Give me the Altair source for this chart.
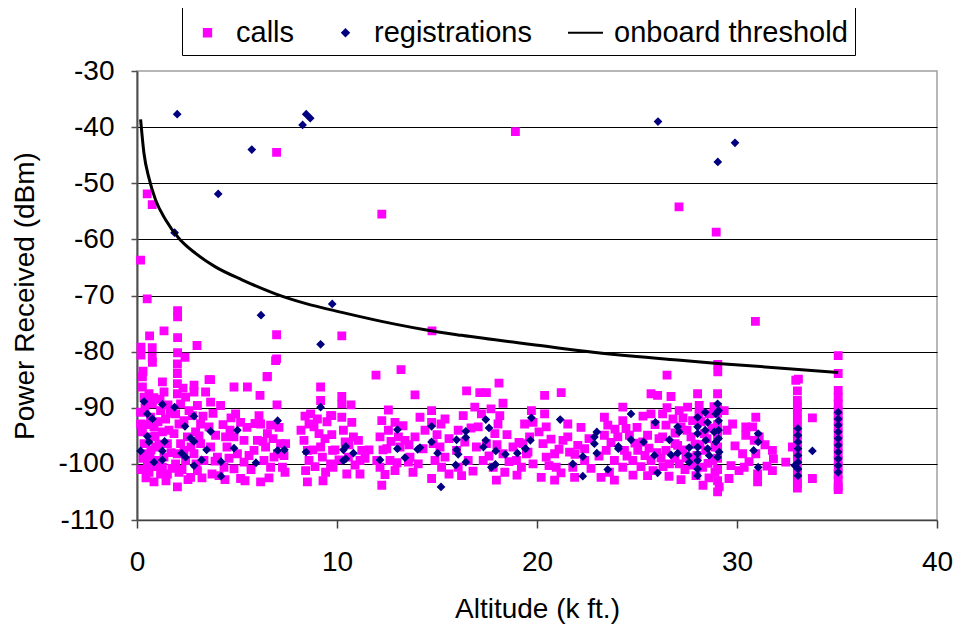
import altair as alt
import pandas as pd

# ---------------- data ----------------
calls_x = [
    # outliers / upper points
    6.98, 18.92, 0.51, 0.76, 12.24, 0.18, 0.51, 2.03, 2.03, 0.63, 1.35, 2.03, 3.0, 6.98, 6.98,
    10.24, 14.75, 0.2, 0.2, 0.76, 0.76, 2.03, 2.4, 0.3, 11.95, 13.2, 6.5, 3.6, 18.1, 27.1,
    28.96, 30.92, 35.06, 35.06, 29.04, 29.04, 26.5, 33.07,
    # x 0 - 10
    0.27, 0.27, 0.77, 0.35, 0.18, 0.18, 0.27, 0.35, 0.43, 0.52, 0.6, 0.85, 0.77, 0.85, 0.68, 0.93,
    1.02, 0.77, 0.6, 1.18,
    1.27, 1.35, 1.18, 1.43, 1.27, 1.52, 1.35, 1.27, 1.52,
    2.02, 2.02, 2.02, 2.02, 2.18, 1.93, 2.1, 1.85, 2.18, 2.02, 1.93, 2.1, 2.02, 2.43, 2.35, 2.52,
    2.35, 2.43,
    2.85, 2.85, 3.02, 2.77, 3.18, 2.93, 3.18, 2.85, 3.35, 3.02, 2.68, 3.43, 3.68, 3.68,
    3.6, 3.93, 3.68, 4.02, 4.35, 4.1, 4.5, 4.18, 4.43,
    4.85, 5.52, 4.93, 5.18, 4.85, 5.35, 5.02, 5.35, 4.85, 5.18, 5.6,
    6.15, 6.52, 6.1, 6.18, 6.52, 6.43, 6.02, 6.68, 6.35, 6.85, 6.68, 6.18, 7.02, 7.18, 7.43, 7.35,
    6.93, 5.85, 7.27,
    8.35, 8.52, 8.6, 8.43, 8.52, 8.68, 8.6, 9.02, 9.1, 9.18, 9.18, 9.18, 9.27, 9.68, 9.68, 9.43,
    8.85,
    # x 10 - 19.5
    10.24, 10.24, 9.74, 9.74, 9.78, 9.8, 10.24, 10.32, 10.41, 10.57, 10.49, 10.74, 10.82,
    11.07, 11.15, 11.15, 11.24,
    11.99, 12.15, 12.24, 12.15, 12.24, 12.57, 12.57, 12.49, 12.65, 12.9, 13.07, 13.15, 13.4,
    13.65, 13.9, 13.9, 14.06, 14.15, 13.57, 12.9,
    14.73, 14.73, 14.81, 14.9, 14.73, 15.2, 15.15, 15.23,
    16.06, 15.98, 16.06, 16.23, 16.39, 16.56, 16.31, 16.48, 16.89, 17.14, 17.47, 17.22, 17.06,
    16.97, 17.31, 17.47, 17.89, 17.81, 17.97, 18.05, 18.14, 18.3, 18.39, 18.8, 18.97, 19.22,
    19.38, 19.3, 19.47,
    # x 19.5 - 29.2
    20.38, 21.21, 19.72, 19.8, 19.63, 19.55, 19.8, 20.21, 20.38, 20.46, 20.3, 20.46, 20.88,
    20.96, 20.88, 21.3, 21.54, 21.54, 21.63, 21.79, 22.04, 22.38, 22.38, 21.88, 23.37, 23.54,
    23.37, 23.46, 23.87, 23.62, 23.87, 24.29, 24.29, 24.45, 24.62, 24.04, 24.37, 24.29, 24.79,
    25.04, 25.29, 25.53, 25.7, 25.7, 26.03, 26.7, 25.7, 25.53, 26.28, 26.45, 26.28, 26.45,
    26.62, 27.11, 27.2, 27.03, 27.11, 27.53, 27.78, 27.7, 27.61, 27.95, 28.03, 28.11, 28.36,
    28.44, 28.28, 29.03, 29.03, 29.11, 28.61, 28.78,
    25.9, 26.1, 26.0, 26.3, 26.8, 26.9, 26.9, 27.3, 27.4, 27.5, 27.9, 28.0, 28.2, 28.5, 28.6,
    28.9, 28.9, 25.2, 24.8, 25.0,
    29.03, 29.03, 29.03, 29.03, 29.03, 29.03, 29.03, 29.03,
    # x 29.3 - 35
    29.36, 29.78, 29.7, 30.28, 30.44, 30.44, 30.36, 30.94, 30.78, 30.86, 30.94, 31.03, 31.03,
    31.11, 31.77, 31.82, 31.77, 32.44, 32.94, 33.02, 33.02, 33.02, 33.02, 33.02, 33.02, 33.02,
    33.02, 32.77, 33.77, 33.77,
    35.06, 35.06, 35.06, 35.06, 35.06, 35.06, 35.06, 35.06,
    35.06, 35.06, 35.06, 35.06, 35.06, 35.06, 35.06, 35.06, 35.06,
    33.02, 33.02, 33.02, 33.02, 33.02, 33.02, 33.02, 33.02, 33.02,
    # denser band fill
    0.4, 0.5, 0.3, 0.7, 0.9, 0.45, 0.65, 0.2, 0.95, 0.55, 1.05, 0.85,
    1.1, 1.6, 1.7, 1.45, 1.15, 1.65, 1.75, 1.55,
    2.25, 2.6, 2.7, 2.95, 3.1, 3.3, 2.55, 3.25, 2.3,
    3.8, 3.9, 4.3, 4.6, 4.65, 4.4, 3.75, 4.7,
    5.5, 5.7, 5.9, 6.3, 6.8, 7.1, 6.6, 5.4, 7.4, 7.0,
    8.2, 8.4, 8.8, 8.9, 9.4, 9.5, 9.9, 9.3,
    10.1, 10.6, 10.9, 11.4, 11.6, 10.7,
    12.3, 12.7, 13.0, 13.3, 13.6, 13.8, 14.3, 14.4, 12.4,
    15.0, 15.4, 15.6, 15.6, 15.4,
    16.7, 16.8, 17.6, 17.7, 18.0, 18.5, 18.6, 19.1, 19.0, 18.3,
    20.1, 20.6, 20.7, 21.1, 21.2, 21.9, 22.6, 22.7, 23.1, 23.2, 23.7, 23.9, 22.2,
    24.5, 24.9, 25.4, 25.6, 25.8, 26.2, 26.6, 26.9, 27.2, 27.45, 27.8, 28.15, 28.3, 28.55, 28.75,
    28.85, 28.1, 27.3, 26.5, 25.3,
    29.5, 29.9, 30.1, 29.6, 30.6, 31.4, 31.5,
]
calls_y = [
    -44.5, -40.8, -51.9, -53.8, -55.5, -63.7, -70.6, -72.7, -73.8, -77.2, -76.3, -77.5, -78.9, -77.0, -81.3,
    -77.2, -76.3, -79.2, -80.6, -79.3, -81.0, -80.2, -81.0, -83.5, -84.2, -83.2, -84.5, -85.0, -85.6, -54.2,
    -58.7, -74.6, -80.7, -83.9, -82.3, -83.6, -84.2, -84.9,
    -84.5, -86.3, -81.9, -88.1, -90.8, -92.9, -94.3, -96.4, -98.2, -100.0, -101.5, -103.2, -95.2, -93.4, -91.7, -97.0,
    -99.4, -89.3, -87.5, -101.8,
    -85.4, -87.2, -90.5, -92.0, -94.3, -96.4, -98.8, -100.6, -101.8,
    -82.2, -83.9, -85.7, -87.5, -89.3, -91.1, -92.9, -94.6, -96.4, -98.2, -100.0, -101.5, -104.1, -88.1, -92.3, -95.2,
    -97.6, -99.4,
    -86.0, -87.2, -89.6, -91.4, -92.9, -94.3, -96.4, -98.2, -99.4, -101.2, -102.4, -87.2, -85.0, -89.0,
    -93.4, -94.9, -97.0, -98.8, -100.6, -102.1, -97.0, -89.6, -95.2,
    -86.3, -86.3, -91.1, -92.6, -95.2, -95.8, -98.2, -99.7, -100.9, -102.6, -98.5,
    -87.8, -84.4, -91.4, -92.9, -94.6, -97.0, -95.8, -93.1, -99.4, -98.8, -100.6, -103.2, -98.2, -96.4, -96.4, -98.5,
    -81.6, -97.6, -100.6,
    -95.8, -97.6, -99.4, -101.2, -103.2, -91.1, -92.9, -92.0, -94.6, -97.0, -86.3, -88.7, -98.8, -91.4, -100.0, -101.5,
    -93.4,
    -88.0, -89.3, -91.4, -94.8, -97.6, -100.6, -91.7, -94.0, -96.1, -98.8, -101.8, -92.6, -95.2,
    -95.8, -99.4, -101.8, -97.6,
    -99.4, -100.6, -103.8, -95.2, -92.3, -90.4, -94.0, -97.3, -99.4, -92.6, -95.2, -97.0, -95.8,
    -98.8, -95.2, -87.7, -100.0, -91.7, -99.7, -101.2,
    -90.5, -92.6, -96.4, -99.4, -102.6, -92.9, -97.0, -100.6,
    -94.0, -97.6, -100.6, -102.1, -96.1, -99.4, -91.4, -87.0, -89.9, -87.3, -87.3, -91.1, -93.4,
    -97.0, -99.4, -96.4, -94.6, -100.6, -102.9, -92.9, -91.4, -98.2, -101.5, -97.0, -99.4, -100.6,
    -92.9, -96.4, -98.2,
    -87.8, -87.3, -90.5, -92.6, -95.2, -97.9, -100.0, -102.4, -91.1, -93.4, -96.4, -98.8, -98.2,
    -100.6, -102.9, -95.8, -92.9, -95.2, -97.9, -100.6, -96.7, -97.3, -99.4, -102.4, -91.7, -93.1,
    -94.9, -97.6, -99.4, -101.5, -102.9, -89.9, -92.3, -93.7, -94.9, -95.2, -97.6, -100.6, -99.4,
    -97.6, -96.1, -94.9, -91.1, -87.5, -87.8, -88.0, -99.4, -102.1, -91.1, -93.1, -95.2, -97.6,
    -100.0, -90.5, -93.4, -96.7, -100.0, -89.9, -92.3, -95.2, -98.8, -102.1, -87.5, -89.6, -94.6,
    -97.6, -100.6, -87.5, -89.9, -104.1, -91.1, -99.4,
    -93.0, -95.5, -98.0, -100.5, -92.0, -94.5, -99.0, -97.5, -101.0, -94.0, -96.5, -98.5, -92.5, -95.5, -102.5,
    -97.0, -101.5, -100.5, -102.0, -93.5,
    -91.0, -93.0, -95.0, -97.0, -99.0, -101.0, -103.0, -105.0,
    -90.5, -92.9, -100.3, -98.2, -93.4, -94.9, -100.6, -91.7, -93.4, -95.8, -98.2, -101.8, -103.2,
    -95.2, -97.6, -99.1, -101.2, -99.7, -85.1, -88.7, -90.8, -93.4, -95.8, -97.6, -99.4, -101.8,
    -103.5, -97.0, -91.8, -102.6,
    -86.9, -89.3, -92.3, -94.6, -97.0, -99.4, -101.8, -104.1,
    -88.1, -90.5, -91.5, -93.5, -95.8, -98.2, -100.6, -103.0, -104.6,
    -87.0, -89.8, -92.1, -94.6, -96.7, -98.5, -100.6, -102.7, -104.3,
    # denser band fill
    -90.0, -93.0, -99.0, -97.5, -95.0, -102.5, -98.8, -101.0, -100.5, -89.0, -92.5, -88.2,
    -96.5, -94.0, -98.0, -103.0, -88.5, -91.0, -100.8, -89.5,
    -101.0, -90.5, -97.0, -100.0, -95.0, -91.5, -102.8, -102.5, -86.5,
    -91.0, -99.5, -93.0, -99.0, -94.0, -102.8, -101.8, -91.8,
    -93.5, -101.0, -92.8, -96.0, -95.5, -93.5, -102.5, -103.0, -101.5, -89.5,
    -94.0, -91.5, -97.5, -100.5, -95.5, -92.5, -97.5, -103.0,
    -99.3, -96.6, -100.2, -99.0, -97.5, -89.5,
    -97.5, -96.0, -99.8, -93.2, -96.6, -101.5, -97.3, -94.0, -101.9,
    -94.8, -98.8, -95.5, -101.8, -92.0,
    -93.6, -101.3, -98.6, -90.2, -96.6, -94.8, -99.6, -96.2, -102.0, -89.2,
    -94.3, -100.3, -95.6, -97.4, -101.6, -98.3, -95.5, -100.8, -98.6, -102.4, -96.2, -93.8, -93.5,
    -98.6, -96.3, -98.5, -97.2, -101.2, -98.9, -102.2, -96.4, -102.8, -98.9, -100.2, -96.6, -103.8, -99.9, -93.6,
    -89.8, -91.2, -91.8, -90.0, -91.5,
    -94.0, -96.8, -101.2, -102.6, -99.6, -96.6, -100.4,
]

reg_x = [
    2.01, 5.74, 4.06, 8.28, 8.46, 8.66, 1.88, 9.76, 6.2, 9.18, 26.05, 29.9, 29.04,
    0.35, 0.52, 0.77, 0.52, 0.6, 0.18, 0.85, 1.27, 1.27, 1.38, 1.27, 1.88, 2.4, 2.68, 2.85, 2.85,
    2.23, 2.43, 2.85, 3.23, 3.48, 3.68, 4.2, 4.2, 4.85, 5.02, 5.95, 7.03, 7.03, 7.37, 8.45, 9.18,
    10.32, 10.44, 10.32, 10.44, 10.82, 12.15, 13.02, 13.02, 13.4, 14.03, 14.15, 14.73, 14.73,
    15.03, 15.2, 15.98, 15.98, 16.06, 15.94, 16.44, 16.44, 16.44, 17.44, 17.6, 17.44, 17.32,
    17.94, 17.72, 17.92, 18.42, 19.02, 19.42,
    19.72, 21.16, 19.67, 19.43, 21.79, 22.29, 22.29, 22.99, 22.87, 22.87, 22.99, 23.54, 24.07,
    24.07, 24.7, 24.7, 25.33, 25.92, 25.87, 26.03, 26.62, 26.7, 27.03, 27.11, 27.03, 27.61,
    27.56, 27.61, 28.03, 28.03, 28.03, 28.03, 28.03, 28.03, 28.03, 28.03, 28.41, 28.53, 28.44,
    28.53, 28.61, 28.86, 28.94, 29.03, 28.94, 29.11, 29.03, 28.41,
    29.08, 29.08, 29.08, 29.08,
    31.06, 31.06, 30.83, 31.06,
    33.05, 33.05, 33.05, 33.05, 33.05, 33.05, 33.05, 33.05, 32.89, 33.77,
    35.06, 35.06, 35.06, 35.06, 35.06, 35.06, 35.06, 35.06, 35.06, 35.06,
]
reg_y = [
    -37.7, -44.0, -51.9, -39.6, -37.7, -38.4, -58.8, -71.5, -73.5, -78.7, -39.0, -42.8, -46.2,
    -88.9, -91.1, -92.0, -95.1, -96.1, -97.7, -99.7, -99.3, -97.7, -96.0, -89.4, -89.9, -93.3, -95.4, -96.0, -91.5,
    -98.1, -98.8, -100.3, -99.3, -97.5, -94.2, -99.6, -102.2, -97.2, -94.0, -99.8, -92.3, -97.6, -97.5, -97.9, -89.9,
    -97.5, -96.9, -99.4, -99.1, -98.1, -99.3, -93.9, -97.3, -98.9, -97.4, -97.1, -93.3, -96.1,
    -98.1, -104.1, -95.7, -97.5, -98.3, -100.2, -94.2, -95.3, -99.7, -92.1, -93.6, -95.8, -97.0,
    -97.7, -100.6, -100.1, -98.3, -98.1, -97.3,
    -91.8, -92.1, -95.8, -97.3, -100.0, -98.7, -102.2, -94.3, -95.2, -96.4, -98.1, -101.0, -96.9,
    -97.3, -91.1, -95.7, -96.1, -92.6, -98.5, -101.6, -95.7, -98.4, -93.4, -94.3, -98.1, -97.1,
    -98.5, -99.7, -91.7, -93.4, -94.6, -97.0, -98.2, -99.4, -100.9, -102.1, -90.8, -92.6, -95.8,
    -97.3, -98.5, -94.3, -91.1, -89.3, -96.1, -97.9, -98.8, -94.0,
    -90.5, -92.3, -94.0, -95.5,
    -94.6, -96.1, -97.6, -100.6,
    -93.7, -94.9, -96.1, -97.3, -98.5, -99.7, -100.9, -102.1, -100.3, -97.7,
    -90.8, -92.0, -93.1, -94.3, -95.5, -96.7, -97.9, -99.1, -100.3, -101.5,
]

thr_x = [0.18, 0.35, 0.6, 0.93, 1.43, 2.09, 2.93, 3.92, 5.25, 6.92, 8.41, 10.24, 12.9, 14.4,
         16.23, 20.55, 22.05, 27.03, 29.03, 35.06]
thr_y = [-38.6, -44.7, -49.1, -53.0, -56.5, -59.8, -62.5, -64.9, -67.2, -69.7, -71.4, -73.0, -75.1,
         -76.1, -77.1, -79.1, -79.8, -81.5, -82.1, -83.7]

series_names = ["calls", "registrations", "onboard threshold"]
series_colors = ["#FF00FF", "#000080", "#000000"]
series_shapes = ["M-0.21,-0.21H0.21V0.21H-0.21Z", "M0,-0.19L0.19,0L0,0.19L-0.19,0Z", "M-1,0H1"]

x_ticks = [0, 10, 20, 30, 40]
y_ticks = [-110, -100, -90, -80, -70, -60, -50, -40, -30]

# ---------------- chart ----------------
pts = pd.DataFrame({
    "alt": calls_x + reg_x,
    "power": calls_y + reg_y,
    "series": ["calls"] * len(calls_x) + ["registrations"] * len(reg_x),
})
thr = pd.DataFrame({"alt": thr_x, "power": thr_y})

FONT = "Liberation Sans"

x_enc = alt.X(
    "alt:Q",
    scale=alt.Scale(domain=[0, 40], nice=False, zero=False),
    axis=alt.Axis(
        values=x_ticks, title="Altitude (k ft.)", grid=False, tickSize=8, tickWidth=1.5,
        tickColor="#404040", domainColor="#404040", domainWidth=1.5, labelPadding=20,
        titlePadding=19, labelFlush=False, labelOverlap=False,
        labelFont=FONT, labelFontSize=28, labelColor="black",
        titleFont=FONT, titleFontSize=28, titleFontWeight="normal", titleColor="black",
    ),
)
y_enc = alt.Y(
    "power:Q",
    scale=alt.Scale(domain=[-110, -30], nice=False, zero=False),
    axis=alt.Axis(
        values=y_ticks, title="Power Received (dBm)", grid=True,
        gridColor={"condition": {"test": "datum.value <= -110 || datum.value >= -30",
                                 "value": "transparent"}, "value": "#000000"},
        gridWidth=1, tickSize=6, tickWidth=1.5, tickColor="#505050",
        domainColor="#505050", domainWidth=2, labelPadding=17, titlePadding=18,
        labelFlush=False, labelOverlap=False, labelExpr="'' + datum.value",
        labelFont=FONT, labelFontSize=28, labelColor="black",
        titleFont=FONT, titleFontSize=28, titleFontWeight="normal", titleColor="black",
    ),
)

legend = alt.Legend(
    title=None, orient="none", legendX=45, legendY=-64, direction="horizontal", columns=3,
    strokeColor="#000000", fillColor="white", padding=7, labelOffset=10, columnPadding=32,
    symbolSize=1225, symbolStrokeWidth=2, labelFont=FONT, labelFontSize=29, labelColor="black",
    labelLimit=400,
)

points = alt.Chart(pts).mark_point(filled=True, size=1225, strokeWidth=1.5, opacity=1).encode(
    x=x_enc,
    y=y_enc,
    fill=alt.Fill("series:N", scale=alt.Scale(domain=series_names, range=series_colors), legend=legend),
    stroke=alt.Stroke("series:N", scale=alt.Scale(domain=series_names, range=series_colors), legend=legend),
    shape=alt.Shape("series:N", scale=alt.Scale(domain=series_names, range=series_shapes), legend=legend),
)

line = alt.Chart(thr).mark_line(color="black", strokeWidth=3, interpolate="monotone").encode(
    x="alt:Q", y="power:Q"
)

chart = alt.layer(points, line).properties(
    width=800, height=449,
    background="white",
    autosize=alt.AutoSizeParams(type="none"),
    padding={"left": 129, "top": 63, "right": 16, "bottom": 104},
).configure_view(
    stroke="#a0a0a0", strokeWidth=1.5
)

chart.save("out.html", embed_options={"renderer": "svg", "actions": False})
